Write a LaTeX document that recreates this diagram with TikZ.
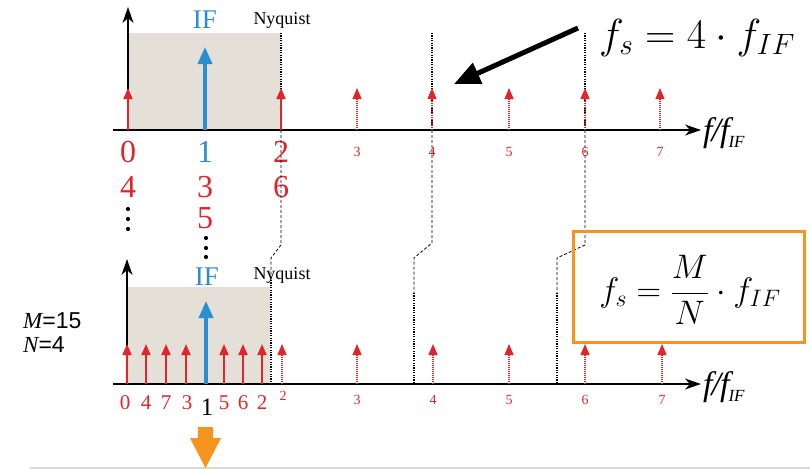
\RequirePackage{fix-cm}
\documentclass[tikz,border=0pt]{standalone}
\usepackage{fontspec}
\setmainfont{Liberation Serif}
\newfontfamily\arialf{Liberation Sans}
\usetikzlibrary{arrows.meta}
\definecolor{rd}{HTML}{E2252B}
\definecolor{bl}{HTML}{2B8ED3}
\definecolor{shadec}{HTML}{E4E0D7}
\definecolor{org}{HTML}{F7941D}
\newcommand{\ffif}{{\itshape f\kern-1pt/\kern-1pt f}\kern-1pt\raisebox{-6pt}{\fontsize{17}{17}\selectfont\itshape IF}}
\begin{document}
\begin{tikzpicture}[x=1pt,y=-1pt,
 axis/.style={line width=1.6pt,-{Stealth[length=16pt,width=11pt,inset=5pt]}},
 redarr/.style={rd,line width=1.8pt,-{Triangle[length=11pt,width=9pt]}},
 reddot/.style={rd,line width=1.3pt,dash pattern=on 1pt off 1pt,-{Triangle[length=11pt,width=9pt]}},
 bluearr/.style={bl,line width=3.5pt,-{Triangle[length=17pt,width=14pt]}},
 vdot/.style={line width=1.5pt,dash pattern=on 1.2pt off 1.2pt},
 vdash/.style={line width=0.8pt,dash pattern=on 3pt off 2pt},
 bignum/.style={font=\fontsize{32}{32}\selectfont,inner sep=0pt},
 midnum/.style={rd,font=\fontsize{21}{21}\selectfont,inner sep=0pt},
 smallnum/.style={rd,font=\fontsize{14}{14}\selectfont,inner sep=0pt},
 iflab/.style={bl,font=\fontsize{27}{27}\selectfont,inner sep=0pt},
 nylab/.style={font=\fontsize{18}{18}\selectfont,inner sep=0pt},
 axlab/.style={font=\fontsize{34}{34}\selectfont,inner sep=0pt},
 mnlab/.style={font=\arialf\fontsize{23}{23}\selectfont,anchor=west,inner sep=0pt},
 dotc/.style={fill=black}
]
\useasboundingbox (0,0) rectangle (810,469);

% ---------- top spectrum ----------
\fill[shadec] (128,33) rectangle (281,130);
\coordinate (tN1) at (281,33);
\coordinate (tN2) at (432,33);
\coordinate (tN3) at (585,33);
\coordinate (tA1) at (281,130);
\coordinate (tA2) at (432,130);
\coordinate (tA3) at (585,130);
\draw[vdot] (tN1) -- (tA1);
\draw[vdot] (tN2) -- (tA2);
\draw[vdot] (tN3) -- (tA3);

\coordinate (ax1s) at (113,130);
\coordinate (ax1e) at (701,130);
\coordinate (ay1s) at (128,130);
\coordinate (ay1e) at (128,7);
\draw[axis] (ay1s) -- (ay1e);
\draw[axis] (ax1s) -- (ax1e);
\node[axlab,anchor=west] (fx1) at (703,133) {\ffif};

\foreach \x in {128,281} {
  \draw[redarr] (\x,130) -- (\x,88);
}
\foreach \x in {357,432,509,585,660} {
  \draw[reddot] (\x,130) -- (\x,88);
}
\draw[bluearr] (205,130) -- (205,47);
\node[iflab] (if1) at (205,20) {IF};
\node[nylab] (ny1) at (282,20) {Nyquist};

\node[bignum,rd] (n0) at (128,152) {0};
\node[bignum,bl] (n1) at (205,152) {1};
\node[bignum,rd] (n2) at (281,152) {2};
\node[bignum,rd] (n4) at (128,187) {4};
\node[bignum,rd] (n3) at (205,187) {3};
\node[bignum,rd] (n6) at (281,187) {6};
\node[bignum,rd] (n5) at (205,218) {5};
\foreach \y in {209,219,229} \fill[dotc] (128,\y) circle (2.1);
\foreach \y in {238,248,257} \fill[dotc] (206,\y) circle (2.1);

\foreach \x/\n in {357/3,432/4,509/5,585/6,660/7}
  \node[smallnum] (s\n) at (\x,152) {\n};

% ---------- lower spectrum ----------
\fill[shadec] (127,287) rectangle (270,384);
\coordinate (ax2s) at (113,384);
\coordinate (ax2e) at (701,384);
\coordinate (ay2s) at (127,384);
\coordinate (ay2e) at (127,259);
\draw[axis] (ay2s) -- (ay2e);
\draw[axis] (ax2s) -- (ax2e);
\node[axlab,anchor=west] (fx2) at (703,387) {\ffif};

\foreach \x in {127,146,166,186,224,243,262} {
  \draw[redarr] (\x,384) -- (\x,344);
}
\foreach \x in {282,357,433,509,585,662} {
  \draw[reddot] (\x,384) -- (\x,344);
}
\draw[bluearr] (206,384) -- (206,301);
\node[iflab] (if2) at (207,277) {IF};
\node[nylab] (ny2) at (282,275) {Nyquist};

\foreach \x/\n in {125/0,146/4,166/7,187/3,224/5,243/6,262/2}
  \node[midnum] at (\x,403) {\n};
\node[font=\fontsize{25}{25}\selectfont,inner sep=0pt] (one) at (207,407) {1};
\node[smallnum] at (283,396) {2};
\foreach \x/\n in {357/3,433/4,509/5,585/6,662/7}
  \node[smallnum] (t\n) at (\x,400) {\n};

% ---------- connectors between the two spectra ----------
\coordinate (c1a) at (281,245);
\coordinate (c1b) at (271,258);
\coordinate (c1m) at (271,280);
\coordinate (c1c) at (271,384);
\coordinate (c2a) at (432,243);
\coordinate (c2b) at (414,258);
\coordinate (c2m) at (414,293);
\coordinate (c2c) at (414,384);
\coordinate (c3a) at (585,245);
\coordinate (c3b) at (557,258);
\coordinate (c3m) at (557,293);
\coordinate (c3c) at (557,384);
\draw[vdash] (tA1) -- (c1a) -- (c1b) -- (c1m);
\draw[vdot] (c1m) -- (c1c);
\draw[vdash] (tA2) -- (c2a) -- (c2b) -- (c2m);
\draw[vdot] (c2m) -- (c2c);
\draw[vdash] (tA3) -- (c3a) -- (c3b) -- (c3m);
\draw[vdot] (c3m) -- (c3c);

% ---------- formulas ----------
\node[font=\fontsize{42}{42}\selectfont,inner sep=0pt] (fs1) at (697,38) {$f_s = 4\cdot f_{IF}$};
\coordinate (arrT) at (578,28);
\coordinate (arrH) at (454,84);
\draw[line width=5pt,-{Triangle[length=26pt,width=22pt]}] (arrT) -- (arrH);

\node[draw=org,line width=3pt,minimum width=231pt,minimum height=111pt,inner sep=0pt] (box) at (688.5,286.5) {};
\node[font=\fontsize{34}{34}\selectfont,inner sep=0pt] (fs2) at (690,290) {$\displaystyle f_s = \frac{M}{N}\cdot f_{IF}$};

\node[mnlab] (mlab) at (23,321) {\rmfamily\itshape M\arialf\upshape =15};
\node[mnlab] (nlab) at (23,345) {\rmfamily\itshape N\arialf\upshape =4};

% ---------- bottom ----------
\draw[gray!30,line width=1.5pt] (30,468) -- (810,468);
\fill[org] (198,427) -- (213,427) -- (213,438) -- (221,438) -- (205.5,468) -- (190,438) -- (198,438) -- cycle;
\end{tikzpicture}
\end{document}
